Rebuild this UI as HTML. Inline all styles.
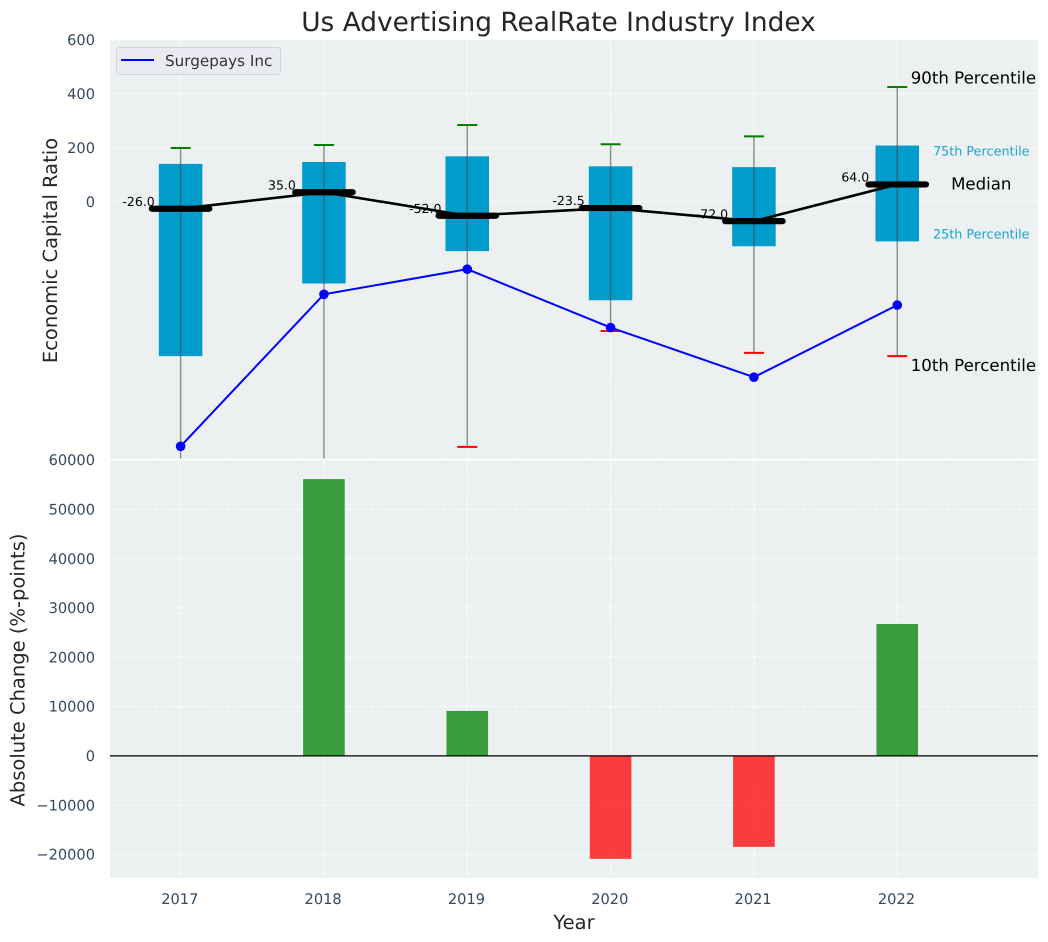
<!DOCTYPE html>
<html>
<head>
<meta charset="utf-8">
<title>Us Advertising RealRate Industry Index</title>
<style>
html,body{margin:0;padding:0;background:#fff;}
svg{display:block;font-family:"DejaVu Sans","Liberation Sans",sans-serif;text-rendering:geometricPrecision;}
</style>
</head>
<body>
<svg id="chart" xmlns="http://www.w3.org/2000/svg" width="1048" height="942" viewBox="0 0 1048 942">
  <defs>
    <clipPath id="top-clip"><rect x="110" y="40" width="928" height="418.6"></rect></clipPath>
    <clipPath id="bottom-clip"><rect x="110" y="460.3" width="928" height="417.7"></rect></clipPath>
  </defs>
  <rect x="110" y="40" width="928" height="418.6" fill="#ecf0f1"></rect>
  <rect x="110" y="460.3" width="928" height="417.7" fill="#ecf0f1"></rect>
  <g id="top-grid" clip-path="url(#top-clip)"></g>
  <g id="bottom-grid" clip-path="url(#bottom-clip)"></g>
  <g id="top-marks" clip-path="url(#top-clip)"></g>
  <g id="bottom-marks" clip-path="url(#bottom-clip)"></g>
  <g id="labels"></g>
  <text x="558.5" y="31" text-anchor="middle" font-size="26.4px" fill="#262626">Us Advertising RealRate Industry Index</text>
  <text transform="translate(57,250.5) rotate(-90)" text-anchor="middle" font-size="19.5px" fill="#262626">Economic Capital Ratio</text>
  <text transform="translate(24.5,670) rotate(-90)" text-anchor="middle" font-size="19.5px" fill="#262626">Absolute Change (%-points)</text>
  <text x="574" y="929" text-anchor="middle" font-size="19.5px" fill="#262626">Year</text>
  <g>
    <rect x="116.5" y="47.5" width="164" height="27" rx="3" fill="#eaeaf2" stroke="#d2d3d6" stroke-width="1"></rect>
    <line x1="121" y1="60" x2="154" y2="60" stroke="#0000ff" stroke-width="2"></line>
    <text x="165" y="66" font-size="15.2px" fill="#333">Surgepays Inc</text>
  </g>
</svg>
<script>
var years = [2017, 2018, 2019, 2020, 2021, 2022];
var p90 = [199, 210, 284, 213, 242, 425];
var p75 = [140, 147, 168, 131, 128, 208];
var medians = [-26, 35, -52, -23.5, -72, 64];
var medianLabels = ["-26.0", "35.0", "-52.0", "-23.5", "-72.0", "64.0"];
var p25 = [-572, -303, -183, -365, -165, -147];
var p10 = [-1200, -1100, -908, -479, -560, -572];
var surgepays = [-906, -343, -250, -466, -650, -383];
var absChange = [0, 56150, 9120, -20880, -18450, 26760];
var topTicks = [0, 200, 400, 600];
var bottomTicks = [-20000, -10000, 0, 10000, 20000, 30000, 40000, 50000, 60000];

var NS = "http://www.w3.org/2000/svg";
function X(v) { return 180.6 + (v - 2017) * 143.33; }
function YT(v) { return 201.7 - v * 0.27; }
function YB(v) { return 755.9 - v * 0.00493; }
function mk(parent, tag, attrs, text) {
  var e = document.createElementNS(NS, tag);
  for (var k in attrs) { e.setAttribute(k, attrs[k]); }
  if (text !== undefined) { e.textContent = text; }
  parent.appendChild(e);
  return e;
}
var topGrid = document.getElementById("top-grid");
var bottomGrid = document.getElementById("bottom-grid");
var topMarks = document.getElementById("top-marks");
var bottomMarks = document.getElementById("bottom-marks");
var labels = document.getElementById("labels");
var gridStyle = {stroke: "#ffffff", "stroke-opacity": 0.8, "stroke-width": 1.1, "stroke-dasharray": "5,2.2"};
function withGrid(o) { for (var k in gridStyle) { o[k] = gridStyle[k]; } return o; }
var el;

topTicks.forEach(function (t) {
  el = mk(topGrid, "line", withGrid({x1: 110, x2: 1038, y1: YT(t), y2: YT(t)}));
  
  
  el = mk(labels, "text", {x: 95, y: YT(t) + 5.3, "text-anchor": "end", "font-size": "14.6px", fill: "#34495e"}, String(t));
  
  
});
bottomTicks.forEach(function (t) {
  el = mk(bottomGrid, "line", withGrid({x1: 110, x2: 1038, y1: YB(t), y2: YB(t)}));
  
  
  el = mk(labels, "text", {x: 95, y: YB(t) + 5.1, "text-anchor": "end", "font-size": "14.6px", fill: "#34495e"}, String(t).replace("-", "\u2212"));
  
  
});
years.forEach(function (yr) {
  el = mk(topGrid, "line", withGrid({x1: X(yr), x2: X(yr), y1: 40, y2: 459}));
  
  
  el = mk(bottomGrid, "line", withGrid({x1: X(yr), x2: X(yr), y1: 460, y2: 878}));
  
  
  el = mk(labels, "text", {x: X(yr) - 0.8, y: 904, "text-anchor": "middle", "font-size": "14.6px", fill: "#34495e"}, String(yr));
  
  
});

years.forEach(function (yr, i) {
  el = mk(topMarks, "rect", {x: X(yr) - 21.75, width: 43.5, y: YT(p75[i]), height: YT(p25[i]) - YT(p75[i]), fill: "#009ccc"});
  
  
  el = mk(topMarks, "line", {x1: X(yr), x2: X(yr), y1: YT(p90[i]), y2: YT(p10[i]), stroke: "#444", "stroke-opacity": 0.6, "stroke-width": 1.4});
  
  
  el = mk(topMarks, "line", {x1: X(yr) - 10, x2: X(yr) + 10, y1: YT(p90[i]), y2: YT(p90[i]), stroke: "#008000", "stroke-width": 2});
  
  
  el = mk(topMarks, "line", {x1: X(yr) - 10, x2: X(yr) + 10, y1: YT(p10[i]), y2: YT(p10[i]), stroke: "#ff0000", "stroke-width": 2});
  
  
  el = mk(topMarks, "text", {x: X(yr) - 42, y: YT(medians[i]) - 2.8, "text-anchor": "middle", "font-size": "12.5px", fill: "#000"}, medianLabels[i]);
  
  
});

el = mk(topMarks, "polyline", {points: years.map(function (yr, i) { return X(yr) + "," + YT(medians[i]); }).join(" "), fill: "none", stroke: "#000", "stroke-width": 2.6});


years.forEach(function (yr, i) {
  el = mk(topMarks, "line", {x1: X(yr) - 28.7, x2: X(yr) + 28.7, y1: YT(medians[i]), y2: YT(medians[i]), stroke: "#000", "stroke-width": 6.2, "stroke-linecap": "round"});
  
  
});
el = mk(topMarks, "polyline", {points: years.map(function (yr, i) { return X(yr) + "," + YT(surgepays[i]); }).join(" "), fill: "none", stroke: "#0000ff", "stroke-width": 2});


years.forEach(function (yr, i) {
  el = mk(topMarks, "circle", {cx: X(yr), cy: YT(surgepays[i]), r: 4.8, fill: "#0000ff"});
  
  
});

var last = years.length - 1;
var lx = X(years[last]);
el = mk(labels, "text", {x: lx + 13.5, y: YT(p90[last]) - 3.3, "font-size": "16.6px", fill: "#000"}, "90th Percentile");


el = mk(labels, "text", {x: lx + 84, y: YT(p75[last]) + 10.2, "text-anchor": "middle", "font-size": "12.8px", fill: "#1ba3d1"}, "75th Percentile");


el = mk(labels, "text", {x: lx + 84, y: YT(medians[last]) + 5.3, "text-anchor": "middle", "font-size": "16.6px", fill: "#000"}, "Median");


el = mk(labels, "text", {x: lx + 84, y: YT(p25[last]) - 2.8, "text-anchor": "middle", "font-size": "12.8px", fill: "#1ba3d1"}, "25th Percentile");


el = mk(labels, "text", {x: lx + 13.5, y: YT(p10[last]) + 14.7, "font-size": "16.6px", fill: "#000"}, "10th Percentile");



years.forEach(function (yr, i) {
  if (absChange[i] === 0) { return; }
  var top = Math.min(YB(absChange[i]), YB(0));
  var h = Math.abs(YB(absChange[i]) - YB(0));
  el = mk(bottomMarks, "rect", {x: X(yr) - 20.8, width: 41.6, y: top, height: h, fill: absChange[i] >= 0 ? "#008000" : "#ff0000", "fill-opacity": 0.75});
  
  
});
el = mk(bottomMarks, "line", {x1: 110, x2: 1038, y1: YB(0), y2: YB(0), stroke: "#000", "stroke-width": 1.3});


</script>
</body>
</html>
